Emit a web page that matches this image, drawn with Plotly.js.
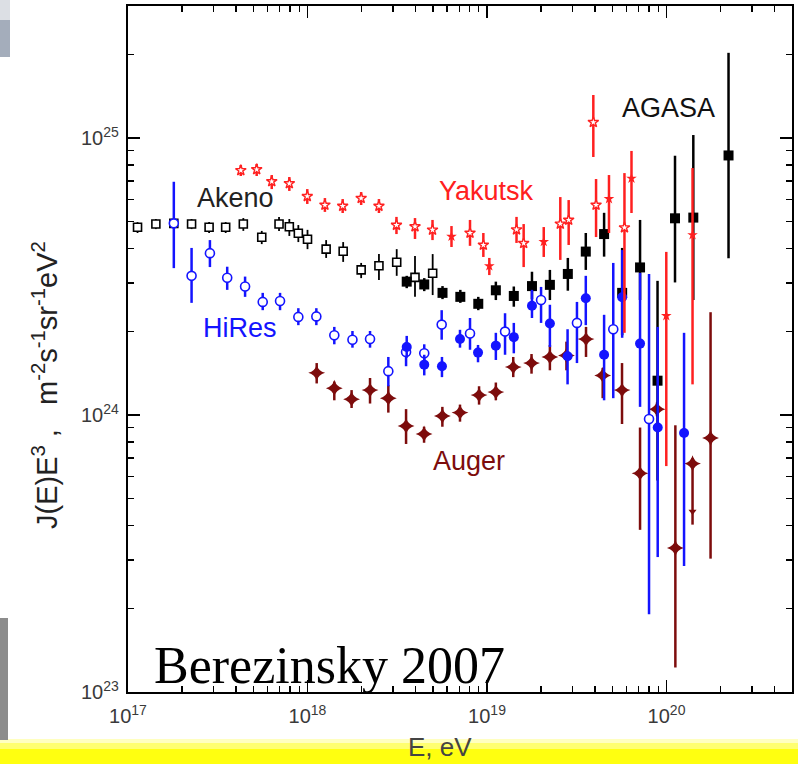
<!DOCTYPE html>
<html>
<head>
<meta charset="utf-8">
<script src="https://cdn.plot.ly/plotly-3.0.1.min.js"></script>
<style>html,body{margin:0;padding:0;background:#fff;}#chart{width:798px;height:764px;}</style>
</head>
<body>
<div id="chart"></div>
<script>
// Energies in eV; fluxes J(E)E^3 in units of 1e24 m^-2 s^-1 sr^-1 eV^2
const J_UNIT = 1e24;

const akenoE  = [1.13e17,1.43e17,1.80e17,2.26e17,2.83e17,3.50e17,4.39e17,5.56e17,6.94e17,7.92e17,8.89e17,1.00e18,1.27e18,1.58e18,1.99e18,2.50e18,3.14e18,3.97e18,4.98e18];
const akenoJ  = [4.76,4.89,4.92,4.89,4.76,4.76,4.89,4.38,4.89,4.78,4.53,4.31,3.97,3.90,3.34,3.46,3.56,3.14,3.25];
const akenoHi = [4.97,5.10,5.14,5.10,4.97,4.97,5.14,4.62,5.19,5.10,4.85,4.66,4.28,4.21,3.54,3.81,3.97,3.75,3.81];
const akenoLo = [4.54,4.69,4.69,4.69,4.54,4.54,4.62,4.14,4.62,4.43,4.21,3.97,3.69,3.57,3.12,3.07,3.18,2.67,2.71];

const agasaE  = [3.57e18,4.47e18,5.65e18,7.10e18,8.94e18,1.12e19,1.41e19,1.78e19,2.24e19,2.82e19,3.55e19,4.49e19,5.66e19,7.12e19,8.91e19,1.115e20,1.41e20,2.215e20];
const agasaJ  = [3.03,2.96,2.76,2.67,2.52,2.82,2.69,2.92,2.95,3.23,3.89,4.50,2.76,3.41,1.33,5.13,5.16,8.65];
const agasaHi = [3.18,3.12,2.92,2.83,2.67,3.03,2.91,3.29,3.34,3.69,4.54,5.37,4.01,5.06,3.05,8.63,10.25,20.3];
const agasaLo = [2.87,2.80,2.62,2.54,2.39,2.60,2.46,2.62,2.60,2.81,3.34,3.73,1.94,2.60,0.58,3.01,2.60,3.68];

const yakOpenE  = [4.25e17,5.21e17,6.32e17,7.92e17,9.97e17,1.25e18,1.57e18,1.99e18,2.50e18,3.13e18,3.97e18,4.97e18,8.04e18,9.54e18,1.46e19,1.60e19,2.56e19,2.85e19,3.91e19,4.05e19,5.83e19];
const yakOpenJ  = [7.64,7.70,6.97,6.85,6.16,5.73,5.68,6.06,5.68,4.85,4.79,4.66,4.54,4.11,4.67,4.17,4.90,5.06,11.4,5.73,4.75];
const yakOpenHi = [7.99,8.06,7.35,7.23,6.54,6.07,6.02,6.38,6.02,5.19,5.14,5.06,5.06,4.54,5.19,4.89,6.12,5.97,14.3,7.11,7.47];
const yakOpenLo = [7.29,7.29,6.54,6.44,5.78,5.41,5.36,5.73,5.36,4.50,4.32,4.28,4.08,3.72,4.18,3.42,3.63,4.11,8.54,4.39,1.98];

const yakFillE  = [6.34e18,1.03e19,2.07e19,4.78e19,6.38e19,9.97e19,1.396e20];
const yakFillJ  = [4.41,3.45,4.22,6.03,7.15,2.28,4.47];
const yakFillHi = [4.81,3.69,4.77,7.35,8.98,3.88,7.79];
const yakFillLo = [4.04,3.20,3.72,4.54,5.36,0.654,1.29];

const hiresOpenE  = [1.80e17,2.26e17,2.86e17,3.57e17,4.49e17,5.63e17,7.03e17,8.89e17,1.12e18,1.41e18,1.78e18,2.23e18,2.82e18,3.54e18,4.47e18,5.59e18,8.04e18,1.26e19,2.00e19,3.17e19,5.05e19,7.99e19];
const hiresOpenJ  = [4.92,3.18,3.84,3.13,2.91,2.56,2.58,2.26,2.27,1.94,1.87,1.88,1.44,1.69,1.67,2.12,1.97,2.00,2.60,2.15,2.04,0.967];
const hiresOpenHi = [6.95,4.01,4.28,3.43,3.16,2.76,2.76,2.43,2.43,2.08,2.01,2.01,1.62,1.83,1.80,2.39,2.24,2.33,2.90,2.56,3.54,3.23];
const hiresOpenLo = [3.39,2.54,3.42,2.83,2.67,2.39,2.39,2.11,2.11,1.80,1.75,1.75,1.27,1.50,1.55,1.87,1.72,1.65,2.15,1.54,1.15,0.191];

const hiresFillE  = [3.57e18,4.47e18,5.61e18,7.07e18,8.91e18,1.12e19,1.41e19,1.78e19,2.24e19,2.81e19,3.55e19,4.49e19,5.66e19,7.12e19,8.93e19,1.252e20];
const hiresFillJ  = [1.76,1.52,1.50,1.88,1.68,1.78,1.91,2.48,2.14,1.63,2.64,1.65,2.66,1.81,0.901,0.861];
const hiresFillHi = [1.93,1.65,1.62,2.03,1.79,1.98,2.15,2.83,2.50,2.04,3.18,2.30,3.94,3.26,2.08,1.98];
const hiresFillLo = [1.61,1.39,1.37,1.75,1.55,1.58,1.67,2.24,1.76,1.29,2.11,1.13,1.90,1.07,0.307,0.285];

const augerE  = [1.125e18,1.41e18,1.76e18,2.23e18,2.82e18,3.54e18,4.46e18,5.64e18,7.07e18,9.03e18,1.12e19,1.40e19,1.77e19,2.24e19,2.77e19,3.56e19,4.41e19,5.65e19,7.12e19,8.85e19,1.12e20,1.396e20,1.759e20];
const augerJ  = [1.42,1.25,1.14,1.23,1.15,0.913,0.854,0.992,1.02,1.18,1.21,1.49,1.54,1.62,1.64,1.88,1.39,1.23,0.616,1.05,0.331,0.668,0.826];
const augerHi = [1.54,1.32,1.23,1.36,1.28,1.05,0.907,1.07,1.09,1.27,1.31,1.62,1.66,1.79,1.84,2.08,1.48,1.54,0.901,1.11,0.918,0.70,2.35];
const augerLo = [1.30,1.13,1.06,1.10,1.02,0.786,0.794,0.907,0.946,1.09,1.13,1.37,1.41,1.45,1.45,1.62,1.15,0.928,0.385,0.99,0.1226,0.402,0.303];

const augerLimitE = [1.396e20];
const augerLimitJ = [0.448];

const seriesLabels = ['Akeno','Yakutsk','HiRes','Auger','AGASA'];

const BLACK = '#000000', RED = '#ff2020', BLUE = '#1414ff', DKRED = '#7d0c0c';

function scaled(a){ return a.map(v => v * J_UNIT); }
function errs(y, hi, lo, color, w){
  return {type:'data', symmetric:false,
    array: hi.map((h,i) => (h - y[i]) * J_UNIT),
    arrayminus: lo.map((l,i) => (y[i] - l) * J_UNIT),
    color: color, thickness: w, width: 0};
}

const traces = [
  {x: augerE, y: scaled(augerJ), mode:'markers', type:'scatter',
   error_y: errs(augerJ, augerHi, augerLo, DKRED, 2.5),
   marker:{symbol:'star-diamond', size:12, color:DKRED, line:{width:0}}},
  {x: augerLimitE, y: scaled(augerLimitJ), mode:'markers', type:'scatter',
   marker:{symbol:'triangle-down', size:7, color:DKRED, line:{width:0}}},
  {x: akenoE, y: scaled(akenoJ), mode:'markers', type:'scatter',
   error_y: errs(akenoJ, akenoHi, akenoLo, BLACK, 1.8),
   marker:{symbol:'square', size:8, color:'#ffffff', line:{color:BLACK, width:1.6}}},
  {x: agasaE, y: scaled(agasaJ), mode:'markers', type:'scatter',
   error_y: errs(agasaJ, agasaHi, agasaLo, BLACK, 2.5),
   marker:{symbol:'square', size:10, color:BLACK, line:{width:0}}},
  {x: hiresOpenE, y: scaled(hiresOpenJ), mode:'markers', type:'scatter',
   error_y: errs(hiresOpenJ, hiresOpenHi, hiresOpenLo, BLUE, 2.5),
   marker:{symbol:'circle', size:9, color:'#ffffff', line:{color:BLUE, width:1.6}}},
  {x: hiresFillE, y: scaled(hiresFillJ), mode:'markers', type:'scatter',
   error_y: errs(hiresFillJ, hiresFillHi, hiresFillLo, BLUE, 2.5),
   marker:{symbol:'circle', size:10, color:BLUE, line:{width:0}}},
  {x: yakOpenE, y: scaled(yakOpenJ), mode:'markers', type:'scatter',
   error_y: errs(yakOpenJ, yakOpenHi, yakOpenLo, RED, 2.5),
   marker:{symbol:'star', size:8, color:'#ffffff', line:{color:RED, width:1.4}}},
  {x: yakFillE, y: scaled(yakFillJ), mode:'markers', type:'scatter',
   error_y: errs(yakFillJ, yakFillHi, yakFillLo, RED, 2.5),
   marker:{symbol:'star', size:8, color:RED, line:{width:0}}}
];

// plot area in pixels: left 128, right 792, top 6, bottom 692
const L = 128, R = 792, T = 6, B = 692;
const px = x => (x - L) / (R - L);
const py = y => (B - y) / (B - T);

const labelFont = 'Liberation Sans, Arial, sans-serif';
function lab(text, x, y, color){
  return {text: text, xref:'paper', yref:'paper', x: px(x), y: py(y),
          xanchor:'center', yanchor:'middle', showarrow:false,
          font:{family:labelFont, size:27, color:color}};
}

const axisCommon = {
  type:'log', showline:true, linecolor:'#000', linewidth:2, mirror:'ticks',
  ticks:'inside', ticklen:12, tickwidth:1.6, tickcolor:'#000',
  dtick:1, exponentformat:'power', showgrid:false, zeroline:false,
  tickfont:{family:labelFont, size:16, color:'#3a3a3a'},
  minor:{ticks:'inside', ticklen:6, tickwidth:1.4, tickcolor:'#000', dtick:'D1', showgrid:false}
};

const layout = {
  width:798, height:764,
  margin:{l:L, r:798-R, t:T, b:764-B, pad:0},
  paper_bgcolor:'#ffffff', plot_bgcolor:'rgba(0,0,0,0)',
  showlegend:false,
  xaxis: Object.assign({}, axisCommon, {range:[17, Math.log10(5e20)], ticklabelstandoff:6}),
  yaxis: Object.assign({}, axisCommon, {range:[23, 23 + 686/277], ticklabelstandoff:4}),
  shapes:[
    {type:'rect', xref:'paper', yref:'paper', x0:-L/664, x1:(798-L)/664, y0:py(764), y1:py(749), fillcolor:'#ffff10', line:{width:0}, layer:'below'},
    {type:'rect', xref:'paper', yref:'paper', x0:-L/664, x1:(798-L)/664, y0:py(749), y1:py(743), fillcolor:'#ffff70', line:{width:0}, layer:'below'},
    {type:'rect', xref:'paper', yref:'paper', x0:-L/664, x1:(798-L)/664, y0:py(743), y1:py(739), fillcolor:'#ffffc0', line:{width:0}, layer:'below'},
    {type:'rect', xref:'paper', yref:'paper', x0:px(0), x1:px(10), y0:py(57), y1:py(20), fillcolor:'#a4adbb', line:{width:0}, layer:'below'},
    {type:'rect', xref:'paper', yref:'paper', x0:px(0), x1:px(10), y0:py(20), y1:py(0), fillcolor:'#dcdfe4', line:{width:0}, layer:'below'},
    {type:'rect', xref:'paper', yref:'paper', x0:px(0), x1:px(8), y0:py(740), y1:py(618), fillcolor:'#8c8c8c', line:{width:0}, layer:'below'}
  ],
  annotations:[
    lab(seriesLabels[0], 235, 198, '#222222'),
    lab(seriesLabels[1], 487, 191, RED),
    lab(seriesLabels[2], 240, 328, BLUE),
    lab(seriesLabels[3], 469, 461, DKRED),
    lab(seriesLabels[4], 668, 108, '#111111'),
    {text:'Berezinsky 2007', xref:'paper', yref:'paper', x:px(152), y:py(665),
     xanchor:'left', yanchor:'middle', showarrow:false,
     font:{family:'Liberation Serif, DejaVu Serif, serif', size:52, color:'#000'}},
    {text:'J(E)E<sup>3</sup> ,   m<sup>-2</sup>s<sup>-1</sup>sr<sup>-1</sup>eV<sup>2</sup>', xref:'paper', yref:'paper',
     x:px(45), y:py(385), textangle:-90, xanchor:'center', yanchor:'middle', showarrow:false,
     font:{family:labelFont, size:29, color:'#222222'}},
    {text:'E, eV', xref:'paper', yref:'paper', x:px(440), y:py(747),
     xanchor:'center', yanchor:'middle', showarrow:false,
     font:{family:labelFont, size:26, color:'#444444'}}
  ]
};

Plotly.newPlot('chart', traces, layout, {staticPlot:true, displayModeBar:false});
</script>
</body>
</html>
